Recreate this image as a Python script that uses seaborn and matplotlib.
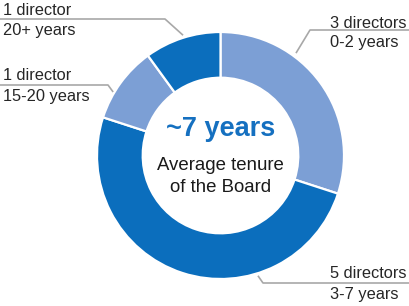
import numpy as np
import matplotlib
matplotlib.use("Agg")
import matplotlib.pyplot as plt
from matplotlib.lines import Line2D
import seaborn as sns

# ---- data ----
counts = [3, 5, 1, 1]
count_labels = ["3 directors", "5 directors", "1 director", "1 director"]
range_labels = ["0-2 years", "3-7 years", "15-20 years", "20+ years"]
center_value = "~7 years"
center_caption = ["Average tenure", "of the Board"]

# ---- style ----
sns.set_theme(style="white")
plt.rcParams['font.family'] = ['Liberation Sans', 'DejaVu Sans']

W, H, DPI = 409, 306, 100
fig = plt.figure(figsize=(W / DPI, H / DPI), dpi=DPI)
fig.patch.set_facecolor("white")

cx, cy, R = 220.5, 155.5, 123.5  # donut centre / radius in pixels
ax = fig.add_axes([(cx - R) / W, (H - cy - R) / H, 2 * R / W, 2 * R / H])

light, dark = "#7C9FD5", "#0B6EBD"
palette = [light, dark, light, dark]
ax.pie(counts, colors=palette, startangle=90, counterclock=False, radius=1,
       wedgeprops=dict(width=0.37, edgecolor="white", linewidth=1.6))
ax.set_xlim(-1, 1)
ax.set_ylim(-1, 1)
ax.set_aspect("equal")
ax.axis("off")


def fpx(x, y):
    return x / W, 1 - y / H


# leader layout per segment: (anchor angle deg, anchor radius, elbow px, line end x, text x, baseline1, baseline2, ha)
layout = [
    (53.6, 1.03, (310, 30), W, 330.5, 27.5, 46.5),
    (-72.7, 1.02, (263, 283), W, 330.5, 278.0, 299.0),
    (149.4, 1.01, (108, 85), 0, 3, 80.0, 101.5),
    (107.3, 1.02, (165, 19), 0, 3, 15.0, 35.5),
]

line_color = "#A8A8A8"
txt_color = "#262626"
for i, (ang, rr, elbow, xend, tx, b1, b2) in enumerate(layout):
    a = np.deg2rad(ang)
    ax_pt = (cx + R * rr * np.cos(a), cy - R * rr * np.sin(a))
    xs, ys = zip(fpx(*ax_pt), fpx(*elbow), fpx(xend, elbow[1]))
    fig.add_artist(Line2D(xs, ys, transform=fig.transFigure, color=line_color,
                          lw=1.2, solid_capstyle="butt"))
    fig.text(*fpx(tx, b1), count_labels[i], ha="left", va="baseline",
             fontsize=11.8, color=txt_color)
    fig.text(*fpx(tx, b2), range_labels[i], ha="left", va="baseline",
             fontsize=11.8, color=txt_color)

# centre text
fig.text(*fpx(cx, 136.5), center_value, ha="center", va="baseline",
         fontsize=19.5, fontweight="bold", color="#1570C0")
fig.text(*fpx(cx, 170.5), center_caption[0], ha="center", va="baseline",
         fontsize=13.4, color="#1a1a1a")
fig.text(*fpx(cx, 192.5), center_caption[1], ha="center", va="baseline",
         fontsize=13.4, color="#1a1a1a")

fig.savefig("out.png", dpi=DPI, facecolor="white")
